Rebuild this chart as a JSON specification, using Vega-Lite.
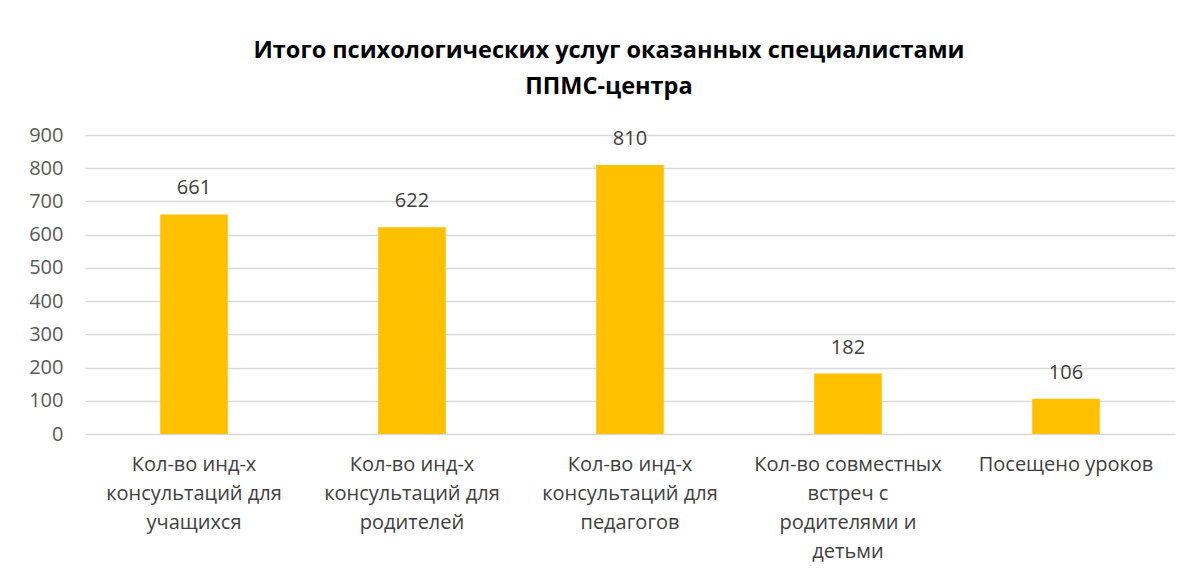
{
  "$schema": "https://vega.github.io/schema/vega-lite/v6.json",
  "autosize": {"type": "none"},
  "width": 1090,
  "height": 299,
  "padding": {"left": 85, "top": 135, "right": 22, "bottom": 144},
  "background": "white",
  "config": {"view": {"stroke": null}, "font": "Open Sans"},
  "title": {
    "text": ["Итого психологических услуг оказанных специалистами", "ППМС-центра"],
    "font": "Open Sans",
    "fontSize": 23.5,
    "fontWeight": "bold",
    "color": "#000000",
    "anchor": "middle",
    "dx": -21,
    "lineHeight": 36,
    "offset": 27
  },
  "data": {
    "values": [
      {"category": "Кол-во инд-х|консультаций для|учащихся", "value": 661},
      {"category": "Кол-во инд-х|консультаций для|родителей", "value": 622},
      {"category": "Кол-во инд-х|консультаций для|педагогов", "value": 810},
      {"category": "Кол-во совместных|встреч  с|родителями и|детьми", "value": 182},
      {"category": "Посещено уроков", "value": 106}
    ]
  },
  "encoding": {
    "x": {
      "field": "category",
      "type": "nominal",
      "sort": null,
      "scale": {"paddingInner": 0.69, "paddingOuter": 0.345},
      "axis": {
        "title": null,
        "labelAngle": 0,
        "labelExpr": "split(datum.label, '|')",
        "labelFont": "Open Sans",
        "labelFontSize": 20,
        "labelColor": "#404040",
        "labelLineHeight": 29,
        "labelPadding": 20,
        "labelLimit": 300,
        "domain": false,
        "ticks": false,
        "grid": false
      }
    },
    "y": {
      "field": "value",
      "type": "quantitative",
      "scale": {"domain": [0, 900], "nice": false},
      "axis": {
        "title": null,
        "values": [0, 100, 200, 300, 400, 500, 600, 700, 800, 900],
        "labelFont": "Open Sans",
        "labelFontSize": 20,
        "labelColor": "#595959",
        "labelPadding": 22,
        "domain": false,
        "ticks": false,
        "gridColor": "#d9d9d9",
        "gridWidth": 1.5
      }
    }
  },
  "layer": [
    {"mark": {"type": "bar", "color": "#FFC000"}},
    {
      "mark": {"type": "text", "dy": -26, "font": "Open Sans", "fontSize": 20, "color": "#404040"},
      "encoding": {"text": {"field": "value", "type": "quantitative"}}
    }
  ]
}
